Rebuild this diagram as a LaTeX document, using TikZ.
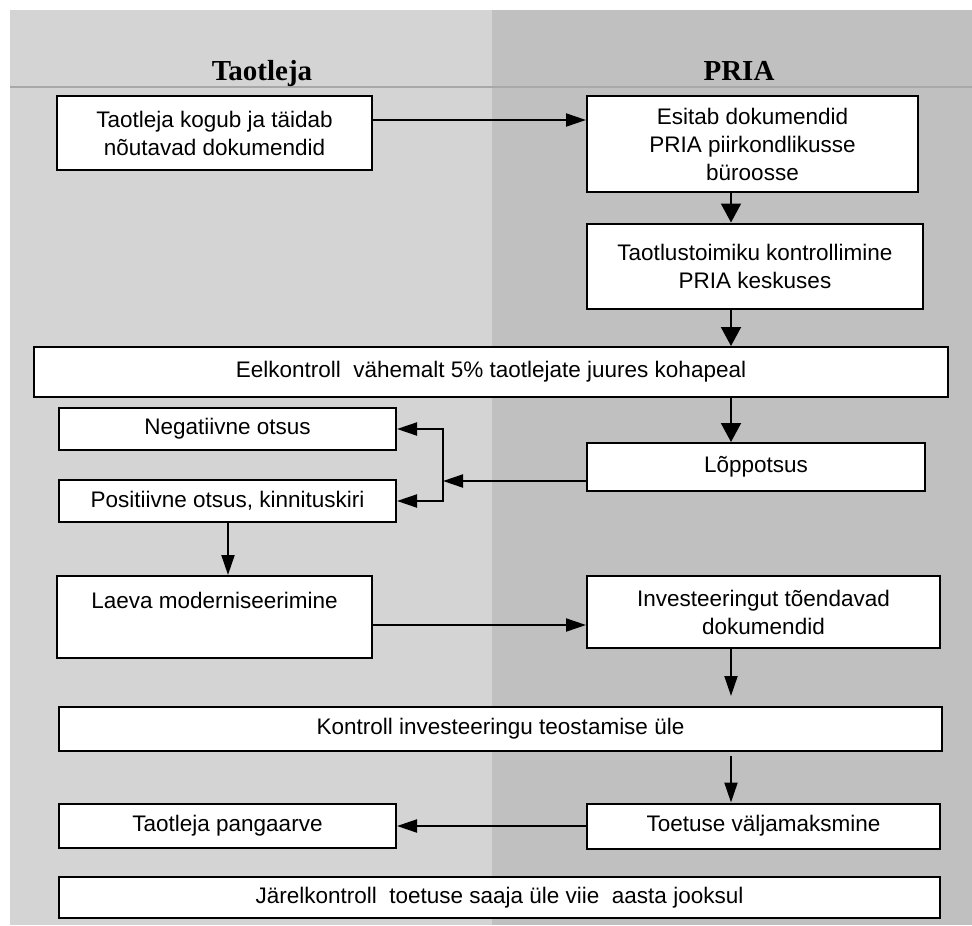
\documentclass[tikz,border=0pt]{standalone}
\usepackage{fontspec}
\setmainfont{Liberation Sans}
\newfontfamily\hdrfont{Liberation Serif}
\usetikzlibrary{arrows.meta,calc}
\definecolor{leftbg}{HTML}{D4D4D4}
\definecolor{rightbg}{HTML}{C0C0C0}
\definecolor{sepline}{HTML}{A8A8A8}
\tikzset{
  bx/.style={draw=black, line width=2pt, fill=white, inner sep=0pt, align=center,
    font=\fontsize{22.5}{28}\selectfont},
  hdr/.style={font=\hdrfont\bfseries\fontsize{29}{32}\selectfont, anchor=base},
  arr/.style={line width=2pt, -{Triangle[length=20pt,width=13pt]}},
  arrw/.style={line width=2pt, -{Triangle[length=19pt,width=20pt]}},
}
\begin{document}
\begin{tikzpicture}[x=1pt,y=-1pt]
\useasboundingbox (0,0) rectangle (972,926);
% panels
\fill[leftbg] (10,10) rectangle (492,925);
\fill[rightbg] (492,10) rectangle (972,925);
\draw[sepline, line width=1.5pt] (10,87) -- (972,87);
\node[hdr] (hL) at (262,80) {Taotleja};
\node[hdr] (hR) at (739,80) {PRIA};
% boxes
\node[bx, minimum width=315, minimum height=74] (b1) at (214.5,133) {Taotleja kogub ja täidab\\nõutavad dokumendid};
\node[bx, minimum width=331, minimum height=96] (b2) at (752.5,144) {Esitab dokumendid\\PRIA piirkondlikusse\\büroosse};
\node[bx, minimum width=336, minimum height=85] (b3) at (755,266) {Taotlustoimiku kontrollimine\\PRIA keskuses};
\node[bx, minimum width=914, minimum height=50] (b4) at (491,372) {Eelkontroll\ \ vähemalt 5\% taotlejate juures kohapeal};
\node[bx, minimum width=337, minimum height=42] (neg) at (227.5,429) {Negatiivne otsus};
\node[bx, minimum width=337, minimum height=42] (pos) at (227.5,501) {Positiivne otsus, kinnituskiri};
\node[bx, minimum width=338, minimum height=48] (lop) at (756,467) {Lõppotsus};
\node[bx, minimum width=315, minimum height=82] (laeva) at (214.5,617) {Laeva moderniseerimine\\[6pt]~};
\node[bx, minimum width=353, minimum height=72] (inv) at (763.5,612) {Investeeringut tõendavad\\dokumendid};
\node[bx, minimum width=883, minimum height=44] (kon) at (500.5,729) {Kontroll investeeringu teostamise üle};
\node[bx, minimum width=353, minimum height=45] (toet) at (763.5,826) {Toetuse väljamaksmine};
\node[bx, minimum width=337, minimum height=44] (pang) at (227.5,826) {Taotleja pangaarve};
\node[bx, minimum width=881, minimum height=41] (jar) at (499.5,897.5) {Järelkontroll\ \ toetuse saaja üle viie\ \ aasta jooksul};
% helper coordinates
\coordinate (colR) at (731,0);
\coordinate (colL) at (228,0);
\coordinate (row1) at (0,120);
\coordinate (row2) at (0,625);
\coordinate (jn) at (443,481);
% connectors
\draw[arr] (b1.east |- row1) -- (b2.west |- row1);
\draw[arrw] (colR |- b2.south) -- (colR |- b3.north);
\draw[arrw] (colR |- b3.south) -- (colR |- b4.north);
\draw[arrw] (colR |- b4.south) -- (colR |- lop.north);
\draw[arr] (lop.west |- jn) -- (jn);
\draw[arr] (jn) |- (neg.east);
\draw[arr] (jn) |- (pos.east);
\draw[arr] (colL |- pos.south) -- (colL |- laeva.north);
\draw[arr] (laeva.east |- row2) -- (inv.west |- row2);
\draw[arr, shorten >=10pt] (colR |- inv.south) -- (colR |- kon.north);
\draw[arr, shorten <=4pt] (colR |- kon.south) -- (colR |- toet.north);
\draw[arr] (toet.west) -- (pang.east);
\end{tikzpicture}
\end{document}
